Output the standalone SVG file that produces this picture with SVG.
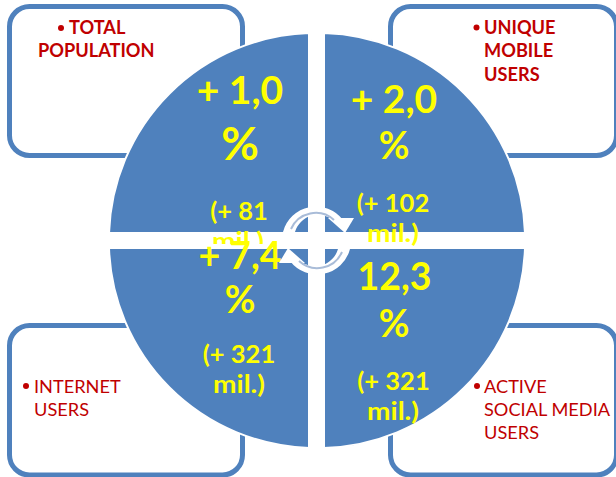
<svg xmlns="http://www.w3.org/2000/svg" width="616" height="477" viewBox="0 0 616 477">
<style>
.box{fill:#fff;stroke:#4f81bd;stroke-width:5}
.q{fill:#4f81bd;stroke:#fff;stroke-width:2}
.dot{fill:#c00000}
text{font-family:"Lato","Carlito","Liberation Sans",sans-serif}
.r{fill:#c00000;font-size:18.2px}
.b{font-weight:700}
.y{fill:#ffff00;font-weight:700;text-anchor:middle}
.big{font-size:37.5px}
.wide{font-size:39px}
.sm{font-size:25.5px}
.arci{fill:none;stroke:#a9bcd8;stroke-width:2}
.head{fill:#fff}
</style>
<defs>
<g id="cycle">
<path class="head" d="M283 232A34 34 0 0 1 343 220L333 220A24 24 0 0 0 295 232Z"/>
<path class="head" d="M328 218L354 218L345 233Z"/>
<path class="arci" d="M291 229A27 27 0 0 1 334 220"/>
</g>
</defs>
<g id="box-total"><rect class="box" x="9.5" y="6.5" width="233" height="149" rx="20"/>
<circle class="dot" cx="61" cy="28" r="3"/>
<text class="r b" x="69" y="34">TOTAL</text><text class="r b" x="38" y="57">POPULATION</text></g>
<g id="box-mobile"><rect class="box" x="390.5" y="6.5" width="226" height="149" rx="20"/>
<circle class="dot" cx="476.5" cy="27.5" r="3"/>
<text class="r b" x="484" y="34">UNIQUE</text><text class="r b" x="484" y="57">MOBILE</text><text class="r b" x="484" y="80.5">USERS</text></g>
<g id="box-internet"><rect class="box" x="9.5" y="325.5" width="233" height="149.5" rx="20"/>
<circle class="dot" cx="26" cy="386" r="3"/>
<text class="r" x="34" y="393">INTERNET</text><text class="r" x="34" y="416">USERS</text></g>
<g id="box-social"><rect class="box" x="390.5" y="325.5" width="226" height="149.5" rx="20"/>
<circle class="dot" cx="477" cy="386" r="3"/>
<text class="r" x="484" y="393">ACTIVE</text><text class="r" x="484" y="416">SOCIAL MEDIA</text><text class="r" x="484" y="439">USERS</text></g>
<g id="pie">
<path class="q" d="M309 233V33A207 207 0 0 0 109 233Z"/>
<path class="q" d="M324 233V33A207 207 0 0 1 525 233Z"/>
<path class="q" d="M309 248V448A207 207 0 0 1 109 248Z"/>
<path class="q" d="M324 248V448A207 207 0 0 0 525 248Z"/>
</g>
<g id="labels">
<text class="y wide" x="240" y="104">+ 1,0</text><text class="y" x="240" y="160" style="font-size:46px">%</text>
<text class="y sm" x="239" y="220">(+ 81</text>
<clipPath id="c"><rect x="180" y="225" width="100" height="19"/></clipPath>
<text class="y sm" x="238" y="250" clip-path="url(#c)" textLength="52" lengthAdjust="spacingAndGlyphs">mil.)</text>
<text class="y wide" x="394" y="113">+ 2,0</text><text class="y big" x="394" y="159">%</text>
<text class="y sm" x="393" y="212">(+ 102</text><text class="y sm" x="393" y="242" textLength="52" lengthAdjust="spacingAndGlyphs">mil.)</text>
<text class="y big" x="240" y="269">+ 7,4</text><text class="y big" x="240" y="313">%</text>
<text class="y sm" x="239" y="363">(+ 321</text><text class="y sm" x="239" y="393" textLength="52" lengthAdjust="spacingAndGlyphs">mil.)</text>
<text class="y big" x="394.5" y="290">12,3</text><text class="y big" x="394" y="337">%</text>
<text class="y sm" x="393.5" y="390">(+ 321</text><text class="y sm" x="393" y="420" textLength="52" lengthAdjust="spacingAndGlyphs">mil.)</text>
</g>
<g id="connectors">
<use href="#cycle"/>
<use href="#cycle" transform="rotate(180 316.5 240.5)"/>
</g>
</svg>
